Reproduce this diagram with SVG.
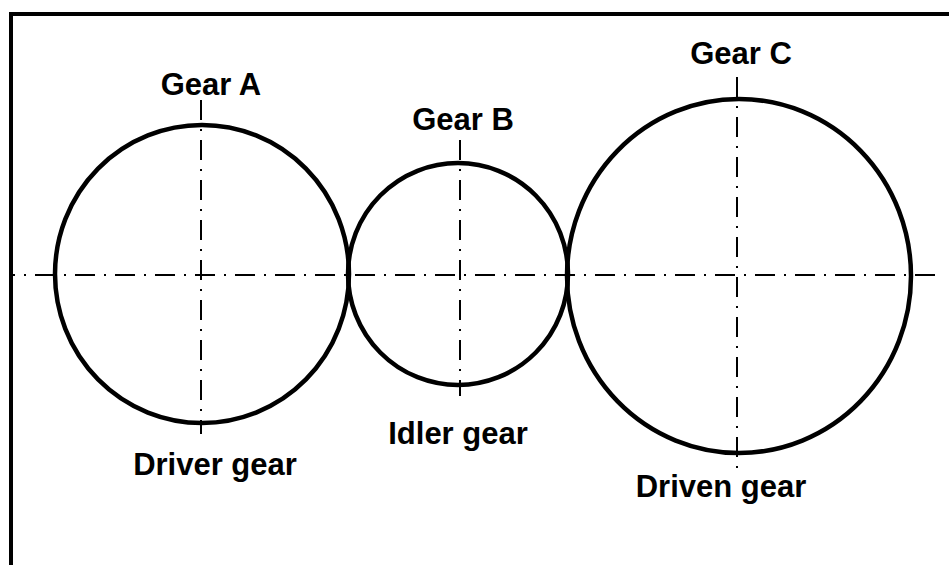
<svg xmlns="http://www.w3.org/2000/svg" width="949" height="565" viewBox="0 0 949 565">
<style>
.gear{fill:none;stroke:#000;stroke-width:4.5}
.cl{fill:none;stroke:#000;stroke-width:2;stroke-dasharray:20 9 2 9}
.lbl{font-family:"Liberation Sans",Arial,sans-serif;font-weight:bold;font-size:31px;text-anchor:middle;fill:#000}
.frame{fill:none;stroke:#000;stroke-width:4}
</style>
<rect width="949" height="565" fill="#fff"/>
<path class="frame" d="M11,565 V14 H949"/>
<g id="connectors">
<line class="cl" x1="-5" y1="275" x2="936" y2="275"/>
<line class="cl" x1="201" y1="100" x2="201" y2="434"/>
<line class="cl" x1="460" y1="140" x2="460" y2="396"/>
<line class="cl" x1="737" y1="77" x2="737" y2="470"/>
</g>
<rect x="0" y="265" width="9" height="20" fill="#fff"/>
<g id="gearA">
<ellipse class="gear" cx="202" cy="274" rx="147" ry="149"/>
<text class="lbl" x="211" y="95">Gear A</text>
<text class="lbl" x="215" y="475">Driver gear</text>
</g>
<g id="gearB">
<ellipse class="gear" cx="458" cy="274" rx="110" ry="111"/>
<text class="lbl" x="463" y="130">Gear B</text>
<text class="lbl" x="458" y="444">Idler gear</text>
</g>
<g id="gearC">
<ellipse class="gear" cx="739" cy="276" rx="172" ry="177"/>
<text class="lbl" x="741" y="64">Gear C</text>
<text class="lbl" x="721" y="497">Driven gear</text>
</g>
</svg>
